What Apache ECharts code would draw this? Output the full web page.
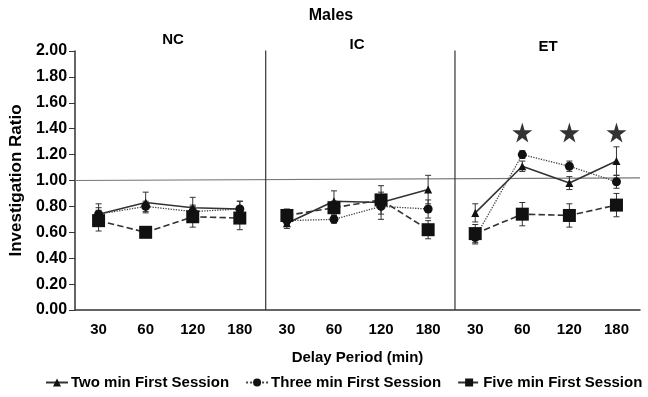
<!DOCTYPE html>
<html>
<head>
<meta charset="utf-8">
<script src="https://cdn.jsdelivr.net/npm/echarts@6/dist/echarts.min.js"></script>
<style>
  html, body { margin: 0; padding: 0; background: #fff; }
  #main { width: 648px; height: 397px; }
</style>
</head>
<body>
<div id="main"></div>
<script>
// delay periods, repeated for the three groups NC / IC / ET
const delays = ['30', '60', '120', '180'];
const groups = ['NC', 'IC', 'ET'];
const categories = [...delays, ...delays, ...delays];

const twoMin = [0.74, 0.83, 0.79, 0.78, 0.67, 0.84, 0.83, 0.93, 0.75, 1.11, 0.98, 1.15];
const threeMin = [0.74, 0.80, 0.76, 0.78, 0.69, 0.70, 0.80, 0.78, 0.56, 1.20, 1.11, 0.99];
const fiveMin = [0.69, 0.60, 0.72, 0.71, 0.73, 0.79, 0.85, 0.62, 0.59, 0.74, 0.73, 0.81];

const twoErr = [0.08, 0.08, 0.08, 0.06, 0.04, 0.08, 0.13, 0.11, 0.07, 0.04, 0.05, 0.11];
const threeErr = [0.05, 0.04, 0.05, 0.06, 0.03, 0.03, 0.06, 0.07, 0.05, 0.03, 0.04, 0.05];
const fiveErr = [0.08, 0.04, 0.08, 0.09, 0.05, 0.05, 0.06, 0.07, 0.07, 0.09, 0.09, 0.09];

// significance stars (ET group)
const stars = [null, null, null, null, null, null, null, null, null, 1.37, 1.37, 1.37];

// reference line at ratio 1 and panel dividers
const refLine = [[0, 1.0], [12, 1.02]];
const dividers = [4.05, 8.07];

const names = ['Two min First Session', 'Three min First Session', 'Five min First Session'];

const chart = echarts.init(document.getElementById('main'));
const font = '"Liberation Sans", Arial, sans-serif';

const styles = [
  { data: twoMin, err: twoErr, symbol: 'triangle', size: 8, type: 'solid', width: 1.6, color: '#333' },
  { data: threeMin, err: threeErr, symbol: 'circle', size: 9, type: 'dotted', width: 1.3, color: '#444' },
  { data: fiveMin, err: fiveErr, symbol: 'rect', size: 13, type: 'dashed', width: 1.6, color: '#333' }
];

const series = [];

// lines per panel (so panels are not joined)
styles.forEach((s, si) => {
  groups.forEach((g, gi) => {
    series.push({
      name: names[si],
      type: 'line',
      data: s.data.map((v, i) => (Math.floor(i / 4) === gi ? v : null)),
      symbol: s.symbol,
      symbolSize: s.size,
      showAllSymbol: true,
      itemStyle: { color: '#111' },
      lineStyle: { color: s.color, type: s.type, width: s.width },
      z: 3 + si,
      animation: false
    });
  });
});

// error bars
styles.forEach((s, si) => {
  series.push({
    type: 'custom',
    name: 'err' + si,
    data: s.data.map((v, i) => [i, v - s.err[i], v + s.err[i]]),
    renderItem: (params, api) => {
      const lo = api.coord([api.value(0), api.value(1)]);
      const hi = api.coord([api.value(0), api.value(2)]);
      const w = 3;
      const st = { stroke: '#333', lineWidth: 1 };
      return {
        type: 'group',
        children: [
          { type: 'line', shape: { x1: hi[0], y1: hi[1], x2: lo[0], y2: lo[1] }, style: st },
          { type: 'line', shape: { x1: hi[0] - w, y1: hi[1], x2: hi[0] + w, y2: hi[1] }, style: st },
          { type: 'line', shape: { x1: lo[0] - w, y1: lo[1], x2: lo[0] + w, y2: lo[1] }, style: st }
        ]
      };
    },
    z: 2,
    animation: false
  });
});

// stars
series.push({
  type: 'scatter',
  name: 'stars',
  data: stars,
  symbol: 'path://M50,0 L61,35 L98,35 L68,57 L79,91 L50,70 L21,91 L32,57 L2,35 L39,35 Z',
  symbolSize: 20,
  itemStyle: { color: '#000' },
  animation: false
});

// reference line
series.push({
  type: 'line',
  name: 'ref',
  xAxisIndex: 1,
  data: refLine,
  symbol: 'none',
  lineStyle: { color: '#777', width: 1.2 },
  z: 1,
  animation: false
});

// panel dividers
dividers.forEach((d) => {
  series.push({
    type: 'line',
    name: 'div',
    xAxisIndex: 1,
    data: [[d, 0], [d, 2.03]],
    symbol: 'none',
    lineStyle: { color: '#333', width: 1.2 },
    z: 1,
    animation: false
  });
});

const option = {
  backgroundColor: '#fff',
  textStyle: { fontFamily: font },
  graphic: [
    { type: 'text', x: 331, y: 16, style: { text: 'Males', font: 'bold 16px ' + font, fill: '#000', align: 'center', verticalAlign: 'middle' } },
    { type: 'text', x: 173, y: 40, style: { text: groups[0], font: 'bold 15px ' + font, fill: '#000', align: 'center', verticalAlign: 'middle' } },
    { type: 'text', x: 357, y: 45, style: { text: groups[1], font: 'bold 15px ' + font, fill: '#000', align: 'center', verticalAlign: 'middle' } },
    { type: 'text', x: 548, y: 47, style: { text: groups[2], font: 'bold 15px ' + font, fill: '#000', align: 'center', verticalAlign: 'middle' } }
  ],
  grid: { left: 75, right: 8, top: 51, bottom: 87 },
  legend: {
    data: names,
    left: 45,
    top: 375,
    width: 603,
    padding: 0,
    itemWidth: 22,
    itemHeight: 10,
    itemGap: 16,
    textStyle: { fontFamily: font, fontWeight: 'bold', fontSize: 15, color: '#000', padding: [0, 0, 0, -2] }
  },
  xAxis: [
    {
      type: 'category',
      data: categories,
      name: 'Delay Period (min)',
      nameLocation: 'middle',
      nameGap: 40,
      nameTextStyle: { fontFamily: font, fontWeight: 'bold', fontSize: 15, color: '#000' },
      axisLine: { lineStyle: { color: '#333', width: 1.5 } },
      axisTick: { lineStyle: { color: '#333' }, length: 5 },
      axisLabel: { fontFamily: font, fontWeight: 'bold', fontSize: 15, color: '#000', margin: 12, interval: 0 }
    },
    {
      type: 'value',
      min: 0,
      max: 12,
      show: false
    }
  ],
  yAxis: {
    type: 'value',
    min: 0,
    max: 2,
    interval: 0.2,
    name: 'Investigation Ratio',
    nameLocation: 'middle',
    nameGap: 47,
    nameTextStyle: { fontFamily: font, fontWeight: 'bold', fontSize: 17, color: '#000' },
    axisLine: { show: true, lineStyle: { color: '#333', width: 1.5 } },
    axisTick: { show: true, length: 6, lineStyle: { color: '#333' } },
    splitLine: { show: false },
    axisLabel: {
      fontFamily: font, fontWeight: 'bold', fontSize: 16, color: '#000', margin: 8,
      formatter: (v) => v.toFixed(2)
    }
  },
  series: series
};

chart.setOption(option);
</script>
</body>
</html>
